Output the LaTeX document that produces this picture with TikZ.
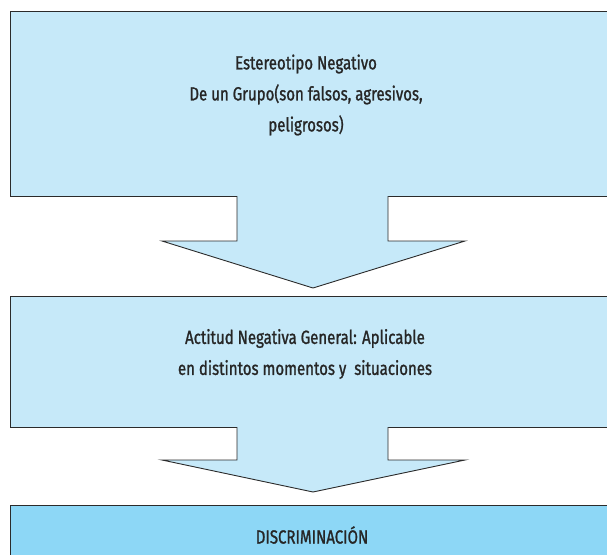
\documentclass[tikz,border=0pt]{standalone}
\usepackage{fontspec}
\setmainfont{Fira Sans}[FakeStretch=0.79, FakeBold=1.2]
\begin{document}
\begin{tikzpicture}[x=1pt,y=-1pt]
  \definecolor{boxlight}{HTML}{C6E9F9}
  \definecolor{boxdark}{HTML}{8DD7F6}
  \definecolor{edgeline}{HTML}{2B2B2B}
  \tikzset{
    panel/.style={draw=edgeline, line width=0.9pt, anchor=north west, inner sep=0pt},
    caption/.style={font=\fontsize{19}{31}\selectfont, text=black!85, align=center, inner sep=0pt},
    blockarrow/.style={draw=edgeline, line width=0.9pt, line join=miter},
  }
  \useasboundingbox (0,0) rectangle (607,554);

  % the three boxes (they run past the right margin)
  \node[panel, fill=boxlight, minimum width=640pt, minimum height=185pt] (stereo) at (10,11) {};
  \node[panel, fill=boxlight, minimum width=640pt, minimum height=131pt] (attitude) at (10,296) {};
  \node[panel, fill=boxdark,  minimum width=640pt, minimum height=80pt]  (discr) at (10,505) {};

  % block arrows hanging from the bottom of each light box
  \foreach \top/\neck/\tip in {196/241/288, 427/460/492}{
    \fill[boxlight] (237,\top-1.5) -- (237,\neck) -- (162,\neck) -- (313,\tip)
                    -- (465,\neck) -- (388,\neck) -- (388,\top-1.5) -- cycle;
    \draw[blockarrow] (237,\top) -- (237,\neck) -- (162,\neck) -- (313,\tip)
                      -- (465,\neck) -- (388,\neck) -- (388,\top);
  }

  % texts
  \node[caption] (stereotxt) at (306,95)
    {Estereotipo Negativo\\De un Grupo(son falsos, agresivos,\\peligrosos)};
  \node[caption] (attitudetxt) at (305,354)
    {Actitud Negativa General: Aplicable\\en distintos momentos y \ situaciones};
  \node[caption] (discrtxt) at (312,535) {DISCRIMINACIÓN};
\end{tikzpicture}
\end{document}
